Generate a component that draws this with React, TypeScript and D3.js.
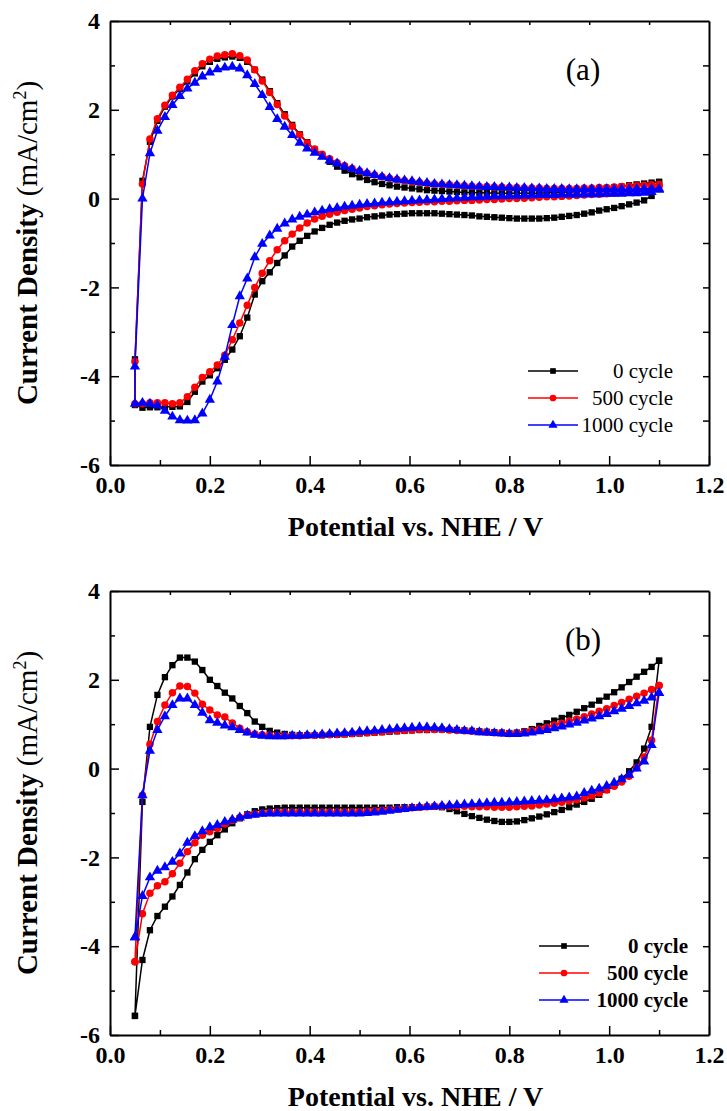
import React, { useRef, useEffect } from 'react';
import * as d3 from 'd3';

// shared potential grid (V vs NHE), one point per marker
const potential = [
  0.05, 0.065, 0.08, 0.095, 0.11, 0.125, 0.14, 0.155, 0.17, 0.185,
  0.2, 0.215, 0.23, 0.245, 0.26, 0.275, 0.29, 0.305, 0.32, 0.335,
  0.35, 0.365, 0.38, 0.395, 0.41, 0.425, 0.44, 0.455, 0.47, 0.485,
  0.5, 0.515, 0.53, 0.545, 0.56, 0.575, 0.59, 0.605, 0.62, 0.635,
  0.65, 0.665, 0.68, 0.695, 0.71, 0.725, 0.74, 0.755, 0.77, 0.785,
  0.8, 0.815, 0.83, 0.845, 0.86, 0.875, 0.89, 0.905, 0.92, 0.935,
  0.95, 0.965, 0.98, 0.995, 1.01, 1.025, 1.04, 1.055, 1.07, 1.085,
  1.1,
];

const cycleNames = ['0 cycle', '500 cycle', '1000 cycle'];

// panel (a)
const a0Anodic = [
  -3.62, 0.40, 1.28, 1.75, 2.07, 2.30, 2.47, 2.64, 2.82, 2.98,
  3.08, 3.15, 3.18, 3.20, 3.17, 3.08, 2.90, 2.68, 2.42, 2.15,
  1.90, 1.66, 1.45, 1.27, 1.10, 0.96, 0.83, 0.72, 0.63, 0.55,
  0.48, 0.42, 0.37, 0.33, 0.30, 0.27, 0.25, 0.23, 0.21, 0.19,
  0.18, 0.17, 0.16, 0.15, 0.14, 0.14, 0.13, 0.13, 0.12, 0.12,
  0.12, 0.12, 0.12, 0.12, 0.12, 0.13, 0.13, 0.14, 0.15, 0.16,
  0.17, 0.19, 0.21, 0.23, 0.25, 0.27, 0.30, 0.32, 0.34, 0.36,
  0.38,
];
const a0Cathodic = [
  -4.65, -4.71, -4.70, -4.70, -4.69, -4.69, -4.68, -4.58, -4.35, -4.12,
  -3.98, -3.82, -3.63, -3.40, -3.10, -2.68, -2.16, -1.86, -1.66, -1.45,
  -1.28, -1.08, -0.95, -0.84, -0.74, -0.66, -0.59, -0.54, -0.50, -0.47,
  -0.45, -0.42, -0.40, -0.38, -0.36, -0.35, -0.34, -0.33, -0.33, -0.33,
  -0.33, -0.34, -0.35, -0.36, -0.37, -0.38, -0.40, -0.41, -0.42, -0.43,
  -0.44, -0.45, -0.45, -0.45, -0.45, -0.44, -0.43, -0.41, -0.39, -0.37,
  -0.34, -0.31, -0.27, -0.24, -0.21, -0.17, -0.13, -0.09, -0.04, 0.06,
  0.36,
];
const a500Anodic = [
  -3.67, 0.33, 1.34, 1.80, 2.10, 2.33, 2.51, 2.69, 2.88, 3.04,
  3.14, 3.21, 3.24, 3.26, 3.22, 3.12, 2.90, 2.65, 2.39, 2.12,
  1.86, 1.63, 1.43, 1.25, 1.12, 1.00, 0.90, 0.81, 0.74, 0.68,
  0.62, 0.57, 0.53, 0.49, 0.46, 0.43, 0.40, 0.38, 0.36, 0.34,
  0.33, 0.32, 0.31, 0.30, 0.29, 0.28, 0.27, 0.27, 0.26, 0.26,
  0.25, 0.25, 0.24, 0.24, 0.24, 0.23, 0.23, 0.23, 0.23, 0.23,
  0.24, 0.24, 0.25, 0.25, 0.26, 0.27, 0.28, 0.29, 0.30, 0.31,
  0.32,
];
const a500Cathodic = [
  -4.62, -4.62, -4.60, -4.60, -4.60, -4.62, -4.60, -4.46, -4.25, -4.03,
  -3.90, -3.75, -3.53, -3.18, -2.80, -2.40, -2.00, -1.68, -1.40, -1.15,
  -0.95, -0.80, -0.66, -0.55, -0.46, -0.40, -0.35, -0.31, -0.27, -0.24,
  -0.21, -0.18, -0.16, -0.14, -0.12, -0.11, -0.10, -0.09, -0.08, -0.07,
  -0.07, -0.06, -0.06, -0.05, -0.04, -0.04, -0.03, -0.02, -0.02, -0.01,
  0.00, 0.00, 0.01, 0.02, 0.03, 0.04, 0.04, 0.05, 0.06, 0.07,
  0.08, 0.09, 0.10, 0.11, 0.12, 0.14, 0.16, 0.18, 0.21, 0.24,
  0.28,
];
const a1000Anodic = [
  -3.78, 0.00, 1.02, 1.53, 1.84, 2.11, 2.31, 2.48, 2.61, 2.75,
  2.84, 2.91, 2.95, 2.97, 2.93, 2.78, 2.58, 2.33, 2.06, 1.79,
  1.62, 1.43, 1.26, 1.13, 1.03, 0.94, 0.86, 0.79, 0.72, 0.67,
  0.62, 0.57, 0.53, 0.49, 0.46, 0.43, 0.41, 0.39, 0.37, 0.35,
  0.33, 0.32, 0.31, 0.30, 0.29, 0.28, 0.27, 0.26, 0.26, 0.25,
  0.25, 0.24, 0.24, 0.23, 0.23, 0.22, 0.22, 0.22, 0.21, 0.21,
  0.21, 0.21, 0.21, 0.21, 0.21, 0.21, 0.21, 0.22, 0.22, 0.22,
  0.22,
];
const a1000Cathodic = [
  -4.62, -4.60, -4.62, -4.66, -4.78, -4.91, -4.99, -5.00, -4.99, -4.84,
  -4.53, -4.12, -3.56, -2.85, -2.20, -1.80, -1.32, -1.02, -0.83, -0.68,
  -0.56, -0.47, -0.41, -0.36, -0.31, -0.27, -0.24, -0.21, -0.18, -0.16,
  -0.14, -0.12, -0.11, -0.09, -0.08, -0.07, -0.06, -0.05, -0.04, -0.03,
  -0.02, -0.01, 0.00, 0.01, 0.02, 0.03, 0.03, 0.04, 0.05, 0.05,
  0.06, 0.06, 0.07, 0.07, 0.08, 0.08, 0.08, 0.09, 0.09, 0.09,
  0.10, 0.10, 0.10, 0.11, 0.11, 0.11, 0.12, 0.12, 0.13, 0.15,
  0.20,
];

// panel (b)
const b0Anodic = [
  -5.57, -0.75, 0.94, 1.66, 2.06, 2.33, 2.50, 2.50, 2.41, 2.22,
  2.00, 1.86, 1.71, 1.58, 1.41, 1.25, 1.06, 0.94, 0.85, 0.81,
  0.78, 0.76, 0.75, 0.75, 0.75, 0.75, 0.76, 0.76, 0.77, 0.78,
  0.79, 0.80, 0.81, 0.82, 0.83, 0.84, 0.85, 0.86, 0.87, 0.87,
  0.88, 0.88, 0.87, 0.87, 0.86, 0.85, 0.84, 0.83, 0.82, 0.81,
  0.80, 0.81, 0.84, 0.89, 0.96, 1.02, 1.08, 1.14, 1.21, 1.28,
  1.36, 1.44, 1.53, 1.62, 1.72, 1.83, 1.95, 2.07, 2.18, 2.29,
  2.43,
];
const b0Cathodic = [
  -5.57, -4.31, -3.64, -3.32, -3.11, -2.88, -2.62, -2.34, -2.04, -1.83,
  -1.65, -1.50, -1.37, -1.23, -1.12, -1.03, -0.96, -0.92, -0.90, -0.89,
  -0.88, -0.88, -0.88, -0.88, -0.88, -0.88, -0.88, -0.88, -0.88, -0.88,
  -0.88, -0.88, -0.88, -0.88, -0.88, -0.87, -0.87, -0.87, -0.87, -0.86,
  -0.86, -0.87, -0.91, -0.96, -1.02, -1.07, -1.11, -1.15, -1.18, -1.20,
  -1.20, -1.19, -1.16, -1.12, -1.08, -1.03, -0.98, -0.93, -0.87, -0.81,
  -0.75, -0.68, -0.59, -0.48, -0.37, -0.23, -0.06, 0.14, 0.45, 0.94,
  2.43,
];
const b500Anodic = [
  -4.35, -0.60, 0.55, 1.06, 1.43, 1.71, 1.86, 1.85, 1.70, 1.45,
  1.32, 1.21, 1.16, 1.03, 0.91, 0.83, 0.78, 0.76, 0.75, 0.74,
  0.74, 0.74, 0.74, 0.75, 0.75, 0.76, 0.76, 0.77, 0.78, 0.79,
  0.80, 0.81, 0.82, 0.83, 0.84, 0.85, 0.86, 0.87, 0.88, 0.88,
  0.88, 0.88, 0.87, 0.86, 0.85, 0.84, 0.83, 0.82, 0.81, 0.80,
  0.79, 0.80, 0.82, 0.85, 0.89, 0.93, 0.98, 1.02, 1.07, 1.12,
  1.17, 1.23, 1.29, 1.35, 1.42, 1.49, 1.56, 1.63, 1.70, 1.78,
  1.87,
];
const b500Cathodic = [
  -4.35, -3.27, -2.81, -2.64, -2.55, -2.37, -2.13, -1.87, -1.67, -1.50,
  -1.42, -1.35, -1.25, -1.17, -1.10, -1.05, -1.02, -1.00, -0.99, -0.98,
  -0.98, -0.98, -0.98, -0.98, -0.98, -0.98, -0.98, -0.98, -0.98, -0.97,
  -0.97, -0.96, -0.95, -0.94, -0.92, -0.91, -0.90, -0.88, -0.87, -0.86,
  -0.85, -0.85, -0.85, -0.85, -0.85, -0.86, -0.86, -0.86, -0.87, -0.87,
  -0.87, -0.86, -0.85, -0.84, -0.82, -0.80, -0.78, -0.76, -0.73, -0.70,
  -0.66, -0.61, -0.55, -0.48, -0.40, -0.30, -0.17, 0.02, 0.26, 0.64,
  1.87,
];
const b1000Anodic = [
  -3.80, -0.60, 0.40, 0.87, 1.18, 1.43, 1.58, 1.58, 1.43, 1.26,
  1.09, 1.03, 0.97, 0.93, 0.87, 0.81, 0.76, 0.74, 0.73, 0.73,
  0.73, 0.74, 0.74, 0.75, 0.76, 0.77, 0.78, 0.79, 0.80, 0.81,
  0.83, 0.84, 0.85, 0.87, 0.88, 0.90, 0.91, 0.92, 0.93, 0.93,
  0.92, 0.91, 0.89, 0.87, 0.85, 0.84, 0.82, 0.81, 0.80, 0.79,
  0.78, 0.78, 0.79, 0.81, 0.84, 0.87, 0.91, 0.95, 0.99, 1.03,
  1.08, 1.13, 1.18, 1.23, 1.29, 1.35, 1.41, 1.47, 1.53, 1.60,
  1.70,
];
const b1000Cathodic = [
  -3.80, -2.87, -2.45, -2.30, -2.22, -2.10, -1.91, -1.67, -1.52, -1.41,
  -1.32, -1.27, -1.20, -1.15, -1.10, -1.06, -1.04, -1.02, -1.01, -1.01,
  -1.01, -1.01, -1.01, -1.01, -1.01, -1.01, -1.01, -1.01, -1.01, -1.01,
  -1.01, -1.00, -0.99, -0.97, -0.95, -0.93, -0.91, -0.89, -0.87, -0.86,
  -0.85, -0.84, -0.83, -0.82, -0.81, -0.80, -0.79, -0.78, -0.77, -0.77,
  -0.76, -0.75, -0.74, -0.73, -0.72, -0.71, -0.69, -0.67, -0.65, -0.63,
  -0.55, -0.50, -0.45, -0.39, -0.32, -0.24, -0.14, 0.00, 0.16, 0.53,
  1.70,
];

const xMajor = [0, 0.2, 0.4, 0.6, 0.8, 1.0, 1.2];
const xMinor = [0.1, 0.3, 0.5, 0.7, 0.9, 1.1];
const xTop = [0.12, 0.24, 0.36, 0.48, 0.6, 0.72, 0.84, 0.96, 1.08];
const yMajor = [-6, -4, -2, 0, 2, 4];
const yMinor = [-5, -3, -1, 1, 3];
const yRight = [-5, -4, -3, -2, -1, 0, 1, 2, 3];

const colors = ['#000000', '#ff0000', '#0000ff'];
const symbols = [d3.symbolSquare, d3.symbolCircle, d3.symbolTriangle];
const symbolSizes = [40, 44, 46];
const SERIF = '"Liberation Serif", "Times New Roman", serif';

const panels = [
  {
    top: 21, bottom: 465, tag: '(a)', tagY: 80,
    legend: { x1: 528, x2: 578, textX: 673, rows: [371, 398, 425], bold: false },
    sweeps: [
      { anodic: a0Anodic, cathodic: a0Cathodic },
      { anodic: a500Anodic, cathodic: a500Cathodic },
      { anodic: a1000Anodic, cathodic: a1000Cathodic },
    ],
  },
  {
    top: 591, bottom: 1035, tag: '(b)', tagY: 650,
    legend: { x1: 539, x2: 589, textX: 688, rows: [946, 973, 1000], bold: true },
    sweeps: [
      { anodic: b0Anodic, cathodic: b0Cathodic },
      { anodic: b500Anodic, cathodic: b500Cathodic },
      { anodic: b1000Anodic, cathodic: b1000Cathodic },
    ],
  },
];

const LEFT = 110;
const RIGHT = 709;

export default function App() {
  const ref = useRef<SVGSVGElement>(null);

  useEffect(() => {
    const svg = d3.select(ref.current);
    svg.selectAll('*').remove();

    panels.forEach((p) => {
      const x = d3.scaleLinear().domain([0, 1.2]).range([LEFT, RIGHT]);
      const y = d3.scaleLinear().domain([-6, 4]).range([p.bottom, p.top]);
      const g = svg.append('g');

      const line = d3
        .line<number[]>()
        .x((d) => x(d[0]))
        .y((d) => y(d[1]));

      p.sweeps.forEach((s, i) => {
        const fwd = potential.map((v, k) => [v, s.anodic[k]]);
        const back = potential.map((v, k) => [v, s.cathodic[k]]).reverse();
        const pts = fwd.concat(back);
        g.append('path')
          .attr('d', line(pts.concat([pts[0]])))
          .attr('fill', 'none')
          .attr('stroke', colors[i])
          .attr('stroke-width', 1.5);
        const sym = d3.symbol().type(symbols[i]).size(symbolSizes[i]);
        g.append('g')
          .selectAll('path')
          .data(pts)
          .enter()
          .append('path')
          .attr('d', sym)
          .attr('transform', (d) => 'translate(' + x(d[0]) + ',' + y(d[1]) + ')')
          .attr('fill', colors[i]);
      });

      // axes, ticks point inward
      const bottomAxis = g.append('g')
        .attr('transform', 'translate(0,' + p.bottom + ')')
        .call(
          d3.axisBottom(x).tickValues(xMajor).tickSize(-9).tickSizeOuter(0)
            .tickPadding(11).tickFormat((d) => (+d).toFixed(1))
        );
      g.append('g')
        .attr('transform', 'translate(0,' + p.bottom + ')')
        .call(d3.axisBottom(x).tickValues(xMinor).tickSize(-5).tickSizeOuter(0).tickFormat(() => ''))
        .select('.domain').remove();
      const leftAxis = g.append('g')
        .attr('transform', 'translate(' + LEFT + ',0)')
        .call(
          d3.axisLeft(y).tickValues(yMajor).tickSize(-9).tickSizeOuter(0)
            .tickPadding(10).tickFormat((d) => String(d))
        );
      g.append('g')
        .attr('transform', 'translate(' + LEFT + ',0)')
        .call(d3.axisLeft(y).tickValues(yMinor).tickSize(-5).tickSizeOuter(0).tickFormat(() => ''))
        .select('.domain').remove();
      g.append('g')
        .attr('transform', 'translate(0,' + p.top + ')')
        .call(d3.axisTop(x).tickValues(xTop).tickSize(-4).tickSizeOuter(0).tickFormat(() => ''));
      g.append('g')
        .attr('transform', 'translate(' + RIGHT + ',0)')
        .call(d3.axisRight(y).tickValues(yRight).tickSize(-6).tickSizeOuter(0).tickFormat(() => ''));

      g.selectAll('.domain').attr('stroke', '#000').attr('stroke-width', 2);
      g.selectAll('.tick line').attr('stroke', '#000').attr('stroke-width', 1.5);
      [bottomAxis, leftAxis].forEach((a) =>
        a.selectAll('text')
          .attr('font-family', SERIF)
          .attr('font-size', 24)
          .attr('font-weight', 'bold')
          .attr('fill', '#000')
      );

      // axis titles
      g.append('text')
        .attr('x', (LEFT + RIGHT) / 2 + 6)
        .attr('y', p.bottom + 71)
        .attr('text-anchor', 'middle')
        .attr('font-family', SERIF)
        .attr('font-size', 28)
        .attr('font-weight', 'bold')
        .text('Potential vs. NHE / V');

      const yt = g.append('text')
        .attr('transform', 'translate(37,' + (p.top + p.bottom) / 2 + ') rotate(-90)')
        .attr('text-anchor', 'middle')
        .attr('font-family', SERIF)
        .attr('font-size', 29);
      yt.append('tspan').attr('font-weight', 'bold').text('Current Density ');
      yt.append('tspan').text('(mA/cm');
      yt.append('tspan').attr('font-size', 18).attr('dy', -11).text('2');
      yt.append('tspan').attr('dy', 11).text(')');

      g.append('text')
        .attr('x', 583)
        .attr('y', p.tagY)
        .attr('text-anchor', 'middle')
        .attr('font-family', SERIF)
        .attr('font-size', 31)
        .text(p.tag);

      // legend
      const lg = p.legend;
      cycleNames.forEach((name, i) => {
        const ly = lg.rows[i];
        g.append('line')
          .attr('x1', lg.x1).attr('x2', lg.x2)
          .attr('y1', ly).attr('y2', ly)
          .attr('stroke', colors[i]).attr('stroke-width', 1.5);
        g.append('path')
          .attr('d', d3.symbol().type(symbols[i]).size(symbolSizes[i] * 0.8)())
          .attr('transform', 'translate(' + (lg.x1 + lg.x2) / 2 + ',' + ly + ')')
          .attr('fill', colors[i]);
        g.append('text')
          .attr('x', lg.textX)
          .attr('y', ly)
          .attr('dy', '0.33em')
          .attr('text-anchor', 'end')
          .attr('font-family', SERIF)
          .attr('font-size', 21)
          .attr('font-weight', lg.bold ? 'bold' : 'normal')
          .text(name);
      });
    });
  }, []);

  return (
    <svg
      ref={ref}
      width={727}
      height={1111}
      style={{ position: 'absolute', left: 0, top: 0, background: '#fff' }}
    />
  );
}
